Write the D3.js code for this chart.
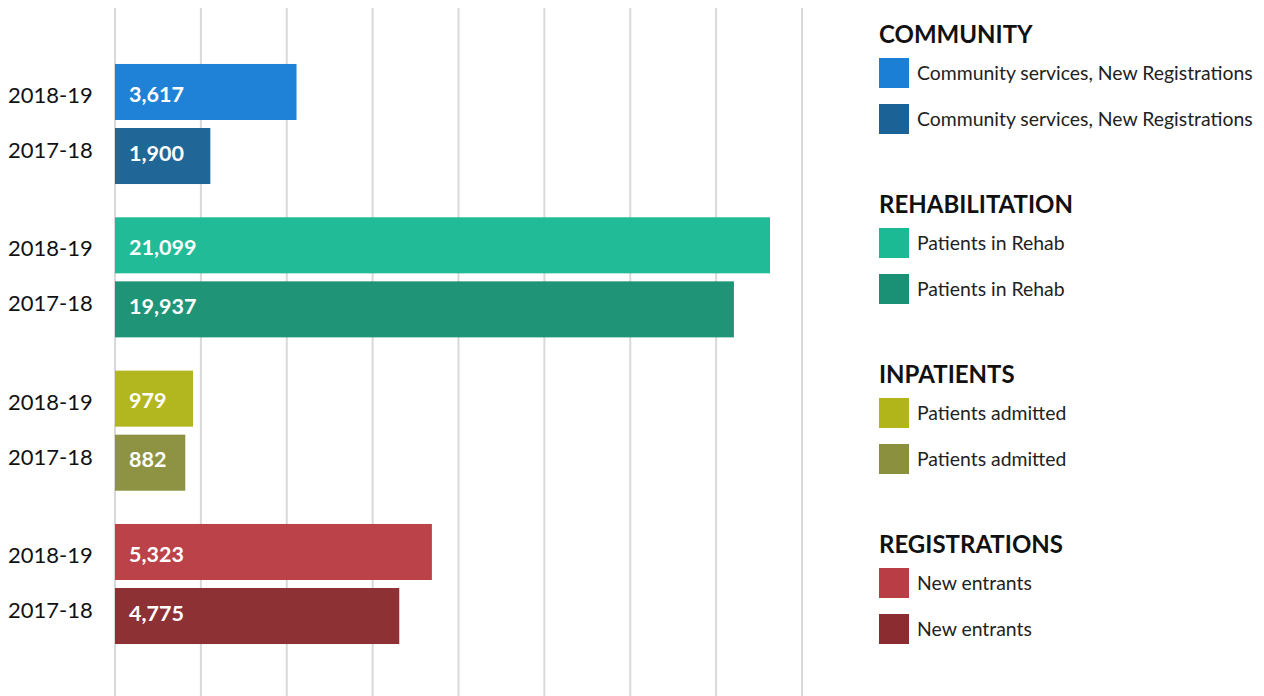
<!DOCTYPE html>
<html>
<head>
<meta charset="utf-8">
<script src="https://cdn.jsdelivr.net/npm/d3@7"></script>
<style>
  html, body { margin: 0; padding: 0; background: #fff; }
  svg { display: block; font-family: Lato, "Noto Sans", sans-serif; }
</style>
</head>
<body>
<svg id="chart" width="1264" height="696"></svg>
<script>
// ---- data ----
const groups = ["COMMUNITY", "REHABILITATION", "INPATIENTS", "REGISTRATIONS"];
const years = ["2018-19", "2017-18"];
const seriesNames = ["Community services, New Registrations", "Patients in Rehab", "Patients admitted", "New entrants"];
const values2018 = [3617, 21099, 979, 5323];
const values2017 = [1900, 19937, 882, 4775];
// each group is drawn against its own axis maximum
const groupAxisMax = [13690, 22130, 8620, 11540];
const gridSteps = [0, 1, 2, 3, 4, 5, 6, 7, 8];
const colors2018 = ["#1a7fd5", "#1cb995", "#b1b51a", "#b93d44"];
const colors2017 = ["#1b6396", "#1a9174", "#8a903e", "#8b2c30"];

// ---- layout ----
const svg = d3.select("#chart");
const x0 = 115, x1 = 802;

const yGroup = d3.scaleBand().domain(groups).range([8, 700]).paddingInner(0.217).paddingOuter(0.365);
const yYear = d3.scaleBand().domain(years).range([0, yGroup.bandwidth()]).paddingInner(0.125);
const yYearLabel = d3.scalePoint().domain(years).range([31, 86]);
const yValueLabel = d3.scalePoint().domain(years).range([30, 89]);

const gridScale = d3.scaleLinear().domain([0, 8]).range([x0, x1]);

// gridlines
svg.append("g").selectAll("line")
  .data(gridScale.ticks(8))
  .join("line")
  .attr("x1", d => gridScale(d)).attr("x2", d => gridScale(d))
  .attr("y1", 8).attr("y2", 696)
  .attr("stroke", "#d9d9d9").attr("stroke-width", 2);

const rows = [];
groups.forEach((g, i) => {
  const scale = d3.scaleLinear().domain([0, groupAxisMax[i]]).range([x0, x1]);
  rows.push({group: g, year: years[0], value: values2018[i], color: colors2018[i], scale});
  rows.push({group: g, year: years[1], value: values2017[i], color: colors2017[i], scale});
});

const fmt = d3.format(",");

const gBars = svg.append("g");
gBars.selectAll("rect").data(rows).join("rect")
  .attr("x", d => d.scale(0))
  .attr("y", d => yGroup(d.group) + yYear(d.year))
  .attr("width", d => d.scale(d.value) - d.scale(0))
  .attr("height", yYear.bandwidth())
  .attr("fill", d => d.color)
  .attr("fill-opacity", 0.975);

// value labels
gBars.selectAll("text.val").data(rows).join("text")
  .attr("class", "val")
  .attr("x", x0 + 14)
  .attr("y", d => yGroup(d.group) + yValueLabel(d.year))
  .attr("dy", "0.36em")
  .attr("fill", "#fff")
  .attr("font-weight", 700)
  .attr("font-size", 21.5)
  .text(d => fmt(d.value));

// year labels
svg.append("g").selectAll("text").data(rows).join("text")
  .attr("x", 8)
  .attr("y", d => yGroup(d.group) + yYearLabel(d.year))
  .attr("dy", "0.36em")
  .attr("fill", "#111")
  .attr("font-size", 22)
  .text(d => d.year);

// legend
const legend = svg.append("g").attr("transform", "translate(879,0)");
const legendY = d3.scaleLinear().domain([0, 3]).range([43, 553]);
groups.forEach((g, i) => {
  const lg = legend.append("g").attr("transform", `translate(0,${legendY(i)})`);
  lg.append("text").attr("x", 0).attr("y", 0)
    .attr("font-weight", 700).attr("font-size", 24).attr("fill", "#111")
    .text(g);
  const items = [colors2018[i], colors2017[i]];
  items.forEach((c, j) => {
    const top = 15 + j * 46;
    lg.append("rect").attr("x", 0).attr("y", top).attr("width", 30).attr("height", 30).attr("fill", c);
    lg.append("text").attr("x", 38).attr("y", top + 21.5)
      .attr("font-size", 19.4).attr("fill", "#222")
      .text(seriesNames[i]);
  });
});
</script>
</body>
</html>
